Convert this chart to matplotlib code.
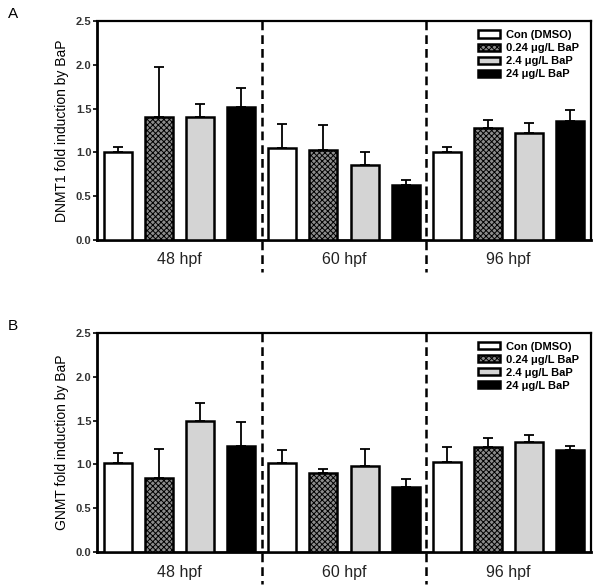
# region 1. imports ------------------------------------------
import matplotlib
matplotlib.use("Agg")
import matplotlib.pyplot as plt
import numpy as np
from matplotlib.transforms import blended_transform_factory
# endregion

# region 2. data ---------------------------------------------
stages = ["48 hpf", "60 hpf", "96 hpf"]
treatments = ["Con (DMSO)", "0.24 \u03bcg/L BaP", "2.4 \u03bcg/L BaP", "24 \u03bcg/L BaP"]

# fold induction, one row per stage, one column per treatment
dnmt1_mean = [[1.01, 1.40, 1.40, 1.52],
              [1.05, 1.03, 0.86, 0.63],
              [1.00, 1.28, 1.22, 1.36]]
dnmt1_err = [[0.05, 0.57, 0.15, 0.21],
             [0.27, 0.28, 0.14, 0.05],
             [0.06, 0.09, 0.12, 0.12]]

gnmt_mean = [[1.02, 0.85, 1.49, 1.21],
             [1.02, 0.90, 0.98, 0.74],
             [1.03, 1.20, 1.26, 1.17]]
gnmt_err = [[0.11, 0.33, 0.21, 0.27],
            [0.14, 0.05, 0.20, 0.09],
            [0.17, 0.10, 0.08, 0.04]]

ylabels = ["DNMT1 fold induction by BaP", "GNMT fold induction by BaP"]
panel_tags = ["A", "B"]
yticks = [0.0, 0.5, 1.0, 1.5, 2.0, 2.5]
# endregion

# region 3. styles -------------------------------------------
plt.rcParams["font.family"] = ["Liberation Sans", "DejaVu Sans"]
plt.rcParams["hatch.linewidth"] = 0.7
plt.rcParams["hatch.color"] = "#2a2a2a"

bar_styles = [dict(facecolor="white", hatch=None),
              dict(facecolor="#8c8c8c", hatch="xxxxxx"),
              dict(facecolor="#d4d4d4", hatch=None),
              dict(facecolor="black", hatch=None)]
# endregion

# region 4. figure -------------------------------------------
fig = plt.figure(figsize=(6.01, 5.88), dpi=100)
ax_a = fig.add_axes([0.1614, 0.5918, 0.822, 0.3724])
ax_b = fig.add_axes([0.1614, 0.0607, 0.822, 0.3735])


def draw_panel(ax, means, errs, ylabel):
    means = np.array(means)
    errs = np.array(errs)
    n_grp, n_bar = means.shape
    for j in range(n_bar):
        x = np.arange(n_grp) * n_bar + j + 0.5
        st = bar_styles[j]
        ax.bar(x, means[:, j], width=0.68, facecolor=st["facecolor"],
               hatch=st["hatch"], edgecolor="black", linewidth=1.8,
               label=treatments[j], zorder=3)
        ax.errorbar(x, means[:, j], yerr=[np.zeros(n_grp), errs[:, j]],
                    fmt="none", ecolor="black", elinewidth=1.3,
                    capsize=3.5, capthick=1.3, zorder=2)

    # dashed separators, running below the axis
    trans = blended_transform_factory(ax.transData, ax.transAxes)
    for k in range(1, n_grp):
        ax.plot([k * n_bar, k * n_bar], [1, -0.146], transform=trans,
                color="black", lw=1.8, ls=(0, (3.5, 2)), clip_on=False,
                zorder=4)

    # group labels
    for k, name in enumerate(stages):
        ax.text(k * n_bar + n_bar / 2, -0.09, name, transform=trans,
                ha="center", va="center", fontsize=11.5, color="#222222")

    ax.set_xlim(0, n_grp * n_bar)
    ax.set_ylim(0, 2.5)
    ax.set_xticks([])
    ax.set_yticks(yticks)
    ax.set_yticklabels([f"{t:.1f}" for t in yticks], fontweight="bold",
                       fontsize=8, color="#333333")
    ax.tick_params(axis="y", length=3, width=1.2, pad=1)
    for side in ["left", "bottom"]:
        ax.spines[side].set_linewidth(2.0)
    for side in ["top", "right"]:
        ax.spines[side].set_linewidth(1.6)
    ax.set_ylabel(ylabel, fontsize=10, labelpad=5)

    ax.legend(loc="upper right", bbox_to_anchor=(0.99, 0.99), frameon=False,
              prop=dict(size=8, weight="bold"), handlelength=2.0,
              handleheight=0.6, labelspacing=0.28, handletextpad=0.6,
              borderaxespad=0.2)


draw_panel(ax_a, dnmt1_mean, dnmt1_err, ylabels[0])
draw_panel(ax_b, gnmt_mean, gnmt_err, ylabels[1])

# panel letters
fig.text(8 / 601, 1 - 14 / 588, panel_tags[0], fontsize=11,
         ha="left", va="center")
fig.text(8 / 601, 1 - 326 / 588, panel_tags[1], fontsize=11,
         ha="left", va="center")
# endregion

# region 5. output -------------------------------------------
fig.savefig("out.png", dpi=100)
# endregion
